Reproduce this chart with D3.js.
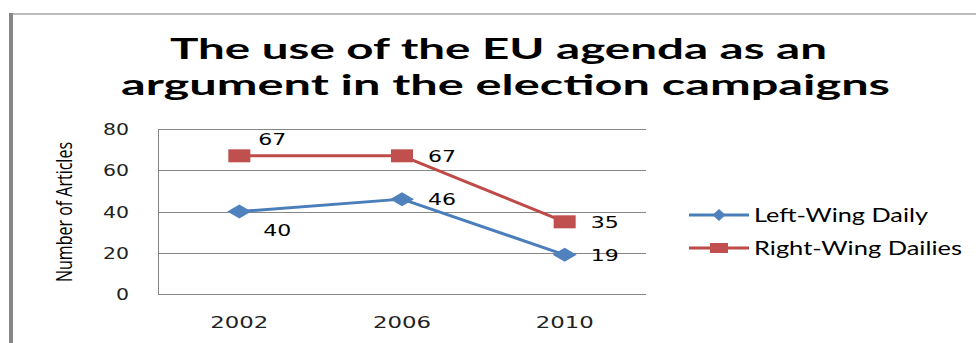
<!DOCTYPE html>
<html>
<head>
<meta charset="utf-8">
<script src="https://cdn.jsdelivr.net/npm/d3@7"></script>
<style>
  body { margin: 0; background: #fff; }
  svg { display: block; }
</style>
</head>
<body>
<div id="chart"></div>
<script>
// data
const years = ["2002", "2006", "2010"];
const leftWing = [40, 46, 19];
const rightWing = [67, 67, 35];
const seriesNames = ["Left-Wing Daily", "Right-Wing Dailies"];
const yTicks = [0, 20, 40, 60, 80];
const titleLines = ["The use of the EU agenda as an", "argument in the election campaigns"];

const W = 976, H = 343;
const plot = {left: 158, right: 646, top: 129, bottom: 294};
const sx = 1.4; // the picture is stretched horizontally

const svg = d3.select("#chart")
  .append("svg")
    .attr("width", W)
    .attr("height", H);

// outer frame
svg.append("line")
  .attr("x1", 9).attr("x2", W).attr("y1", 14).attr("y2", 14)
  .attr("stroke", "#a6a6a6").attr("stroke-width", 1.5);
svg.append("rect")
  .attr("x", 9).attr("y", 13).attr("width", 4).attr("height", H)
  .attr("fill", "#868686");

// title
svg.selectAll("text.title")
  .data(titleLines)
  .join("text")
    .attr("class", "title")
    .attr("x", (d, i) => i == 0 ? 170 : 121)
    .attr("y", (d, i) => i == 0 ? 59 : 95)
    .attr("textLength", (d, i) => i == 0 ? 657 : 769)
    .attr("lengthAdjust", "spacingAndGlyphs")
    .style("font-family", "Lato, 'Open Sans', sans-serif")
    .style("font-weight", "bold")
    .style("font-size", "29px")
    .style("fill", "#000")
    .text(d => d);

const x = d3.scaleBand()
  .domain(years)
  .range([plot.left, plot.right]);

const y = d3.scaleLinear()
  .domain([0, 80])
  .range([plot.bottom, plot.top]);

// gridlines
svg.append("g")
  .selectAll("line")
  .data(yTicks)
  .join("line")
    .attr("x1", plot.left).attr("x2", plot.right)
    .attr("y1", d => Math.round(y(d)) + 0.5).attr("y2", d => Math.round(y(d)) + 0.5)
    .attr("stroke", "#868686").attr("stroke-width", 1);

// left axis line
svg.append("line")
  .attr("x1", plot.left + 0.5).attr("x2", plot.left + 0.5)
  .attr("y1", Math.round(y(80)) + 0.5).attr("y2", Math.round(y(0)) + 0.5)
  .attr("stroke", "#868686");

// y tick labels
svg.append("g")
  .selectAll("text")
  .data(yTicks)
  .join("text")
    .attr("x", 129)
    .attr("y", d => y(d) + 6)
    .attr("text-anchor", "end")
    .attr("textLength", d => String(d).length * 13)
    .attr("lengthAdjust", "spacingAndGlyphs")
    .style("font-family", "'DejaVu Sans', sans-serif")
    .style("font-size", "16px")
    .style("fill", "#222")
    .text(d => d);

// x tick labels
svg.append("g")
  .selectAll("text")
  .data(years)
  .join("text")
    .attr("x", d => x(d) + x.bandwidth() / 2 - 29)
    .attr("y", 328)
    .attr("textLength", 58)
    .attr("lengthAdjust", "spacingAndGlyphs")
    .style("font-family", "'DejaVu Sans', sans-serif")
    .style("font-size", "16px")
    .style("fill", "#222")
    .text(d => d);

// y axis title
svg.append("text")
  .attr("transform", `translate(72,212) scale(${sx},1) rotate(-90)`)
  .attr("text-anchor", "middle")
  .attr("textLength", 140)
  .attr("lengthAdjust", "spacingAndGlyphs")
  .style("font-family", "'Liberation Sans Narrow', 'Open Sans', sans-serif")
  .style("font-size", "16px")
  .style("fill", "#000")
  .text("Number of Articles");

const cx = d => x(d) + x.bandwidth() / 2;

const series = [
  {name: seriesNames[0], values: leftWing, line: "#4a7ebb", fill: "#4f81bd", shape: "diamond",
   labelPos: ["below", "right", "right"]},
  {name: seriesNames[1], values: rightWing, line: "#be4b48", fill: "#c0504d", shape: "square",
   labelPos: ["above", "right", "right"]}
];

function marker(g, shape, color, w, h) {
  if (shape == "square") {
    g.append("rect")
      .attr("x", -w / 2).attr("y", -h / 2)
      .attr("width", w).attr("height", h)
      .attr("fill", color);
  } else {
    g.append("path")
      .attr("d", `M${-w / 2},0L0,${-h / 2}L${w / 2},0L0,${h / 2}Z`)
      .attr("fill", color);
  }
}

const line = d3.line()
  .x(d => cx(d.year))
  .y(d => y(d.value));

series.forEach(s => {
  const pts = years.map((yr, i) => ({year: yr, value: s.values[i], pos: s.labelPos[i]}));

  svg.append("path")
    .datum(pts)
    .attr("d", line)
    .attr("fill", "none")
    .attr("stroke", s.line)
    .attr("stroke-width", 3)
    .attr("stroke-linejoin", "round");

  pts.forEach(p => {
    const g = svg.append("g")
      .attr("transform", `translate(${cx(p.year)},${y(p.value)})`);
    if (s.shape == "square") marker(g, "square", s.fill, 22, 13);
    else marker(g, "diamond", s.fill, 24, 14);

    let dx = 38, dy = 0;
    if (p.pos == "below") { dx = 38; dy = 18; }
    if (p.pos == "above") { dx = 33; dy = -17; }
    if (p.pos == "right") { dx = 40; dy = 0; }
    svg.append("text")
      .attr("x", cx(p.year) + dx - 14)
      .attr("y", y(p.value) + dy + 6)
      .attr("textLength", 28)
      .attr("lengthAdjust", "spacingAndGlyphs")
      .style("font-family", "'DejaVu Sans', sans-serif")
      .style("font-size", "16px")
      .style("fill", "#000")
      .text(p.value);
  });
});

// legend
const legend = svg.append("g");
series.forEach((s, i) => {
  const ly = 215 + i * 33;
  legend.append("line")
    .attr("x1", 689).attr("x2", 749)
    .attr("y1", ly).attr("y2", ly)
    .attr("stroke", s.line).attr("stroke-width", 3);
  const g = legend.append("g").attr("transform", `translate(719,${ly})`);
  if (s.shape == "square") marker(g, "square", s.fill, 18, 10);
  else marker(g, "diamond", s.fill, 13, 12);
  legend.append("text")
    .attr("x", 754)
    .attr("y", ly + 7)
    .attr("textLength", i == 0 ? 174 : 208)
    .attr("lengthAdjust", "spacingAndGlyphs")
    .style("font-family", "Lato, 'Open Sans', sans-serif")
    .style("font-size", "19px")
    .style("fill", "#000")
    .text(s.name);
});
</script>
</body>
</html>
